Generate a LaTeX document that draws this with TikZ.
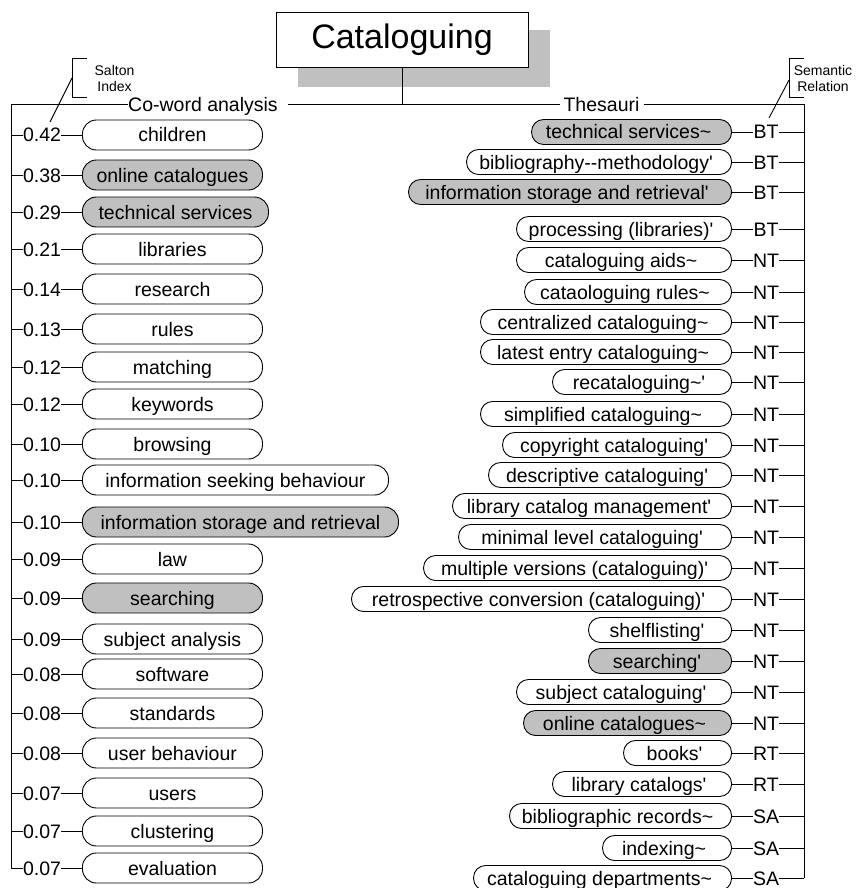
\documentclass[tikz,border=0pt]{standalone}
\usepackage{fontspec}
\setmainfont{Liberation Sans}[Ligatures=TeXOff]
\definecolor{termgray}{RGB}{192,192,192}
\newcommand\tld{\textasciitilde}
\begin{document}
\begin{tikzpicture}[x=1pt,y=-1pt,line width=0.9pt,
  every node/.style={font=\fontsize{19.5}{22}\selectfont,inner sep=0pt},
  rowtext/.style={text height=14pt,text depth=0pt},
  pillL/.style={draw,rowtext,rounded corners=14pt,minimum height=30pt,anchor=west},
  pillR/.style={draw,rowtext,rounded corners=12pt,minimum height=25pt,anchor=east},
  val/.style={rowtext},
  rel/.style={rowtext},
  note/.style={font=\fontsize{14}{16}\selectfont,align=center},
]
\useasboundingbox (0,0) rectangle (866,888);

% title with drop shadow
\fill[termgray] (298,30) rectangle (550,87);
\node[draw,fill=white,minimum width=252,minimum height=55,
      font=\fontsize{34}{40}\selectfont] (title) at (402,39.5) {Cataloguing};

% the two branches
\coordinate (hub) at (402,104);
\node[rowtext] (coword) at (203,104) {Co-word analysis};
\node[rowtext] (thes) at (601.5,104) {Thesauri};
\coordinate (lt) at (11,104);
\coordinate (lb) at (11,868);
\coordinate (rt) at (804,104);
\coordinate (rb) at (804,878);
\draw (title.south) -- (hub);
\draw (hub) -- ([xshift=10pt]coword.east);
\draw (coword.west) -- (lt) -- (lb);
\draw (hub) -- ([xshift=-3pt]thes.west);
\draw ([xshift=4pt]thes.east) -- (rt) -- (rb);

% bracket notes
\node[note] (salton) at (114.5,78) {Salton\\Index};
\coordinate (sa1) at (87,58);
\coordinate (sa2) at (72,58);
\coordinate (sa3) at (72,97);
\coordinate (sa4) at (87,97);
\coordinate (sam) at (72,78);
\coordinate (sat) at (50,122);
\draw (sa1) -- (sa2) -- (sa3) -- (sa4);
\draw (sam) -- (sat);

\node[note] (semrel) at (823,78) {Semantic\\Relation};
\coordinate (se1) at (804,58);
\coordinate (se2) at (789,58);
\coordinate (se3) at (789,97);
\coordinate (se4) at (804,97);
\coordinate (sem) at (789,80);
\coordinate (set) at (769,118);
\draw (se1) -- (se2) -- (se3) -- (se4);
\draw (sem) -- (set);

% co-word terms with Salton index values
\foreach \i/\y/\v/\t/\w/\c in {
  1/135/0.42/children/180/white,
  2/175/0.38/online catalogues/180/termgray,
  3/212/0.29/technical services/186/termgray,
  4/249/0.21/libraries/180/white,
  5/289/0.14/research/180/white,
  6/329/0.13/rules/180/white,
  7/367/0.12/matching/180/white,
  8/404/0.12/keywords/180/white,
  9/444/0.10/browsing/180/white,
  10/480/0.10/information seeking behaviour/306/white,
  11/522/0.10/information storage and retrieval/316/termgray,
  12/559/0.09/law/180/white,
  13/598/0.09/searching/180/termgray,
  14/639/0.09/subject analysis/180/white,
  15/674/0.08/software/180/white,
  16/713/0.08/standards/180/white,
  17/753/0.08/user behaviour/180/white,
  18/793/0.07/users/180/white,
  19/831/0.07/clustering/180/white,
  20/868/0.07/evaluation/180/white}
{
  \coordinate (ls\i) at (11,\y);
  \node[val] (lv\i) at (42,\y) {\v};
  \node[pillL,fill=\c,minimum width=\w] (lp\i) at (82,\y) {\t};
  \draw (ls\i) -- (lv\i.west);
  \draw (lv\i.east) -- (lp\i.west);
}

% thesaurus terms with semantic relations
\foreach \i/\y/\l/\t/\r/\c in {
  1/132/532/technical services\tld/BT/termgray,
  2/162/467/bibliography--methodology'/BT/white,
  3/192/409/information storage and retrieval'/BT/termgray,
  4/229/517/processing (libraries)'/BT/white,
  5/260/517/cataloguing aids\tld/NT/white,
  6/292/525/cataologuing rules\tld/NT/white,
  7/322/481/centralized cataloguing\tld/NT/white,
  8/352/481/latest entry cataloguing\tld/NT/white,
  9/382/553/recataloguing\tld'/NT/white,
  10/414/481/simplified cataloguing\tld/NT/white,
  11/445/503/copyright cataloguing'/NT/white,
  12/475/489/descriptive cataloguing'/NT/white,
  13/506/453/library catalog management'/NT/white,
  14/537/459/minimal level cataloguing'/NT/white,
  15/568/424/multiple versions (cataloguing)'/NT/white,
  16/599/352/retrospective conversion (cataloguing)'/NT/white,
  17/630/589/shelflisting'/NT/white,
  18/661/589/searching'/NT/termgray,
  19/692/517/subject cataloguing'/NT/white,
  20/723/524/online catalogues\tld/NT/termgray,
  21/753/624/books'/RT/white,
  22/784/553/library catalogs'/RT/white,
  23/816/510/bibliographic records\tld/SA/white,
  24/848/603/indexing\tld/SA/white,
  25/878/474/cataloguing departments\tld/SA/white}
{
  \coordinate (rs\i) at (804,\y);
  \node[rel] (rr\i) at (766,\y) {\r};
  \node[pillR,fill=\c,minimum width={732-\l}] (rp\i) at (732,\y) {\t\kern6pt};
  \draw (rp\i.east) -- (rr\i.west);
  \draw (rr\i.east) -- (rs\i);
}
\end{tikzpicture}
\end{document}
